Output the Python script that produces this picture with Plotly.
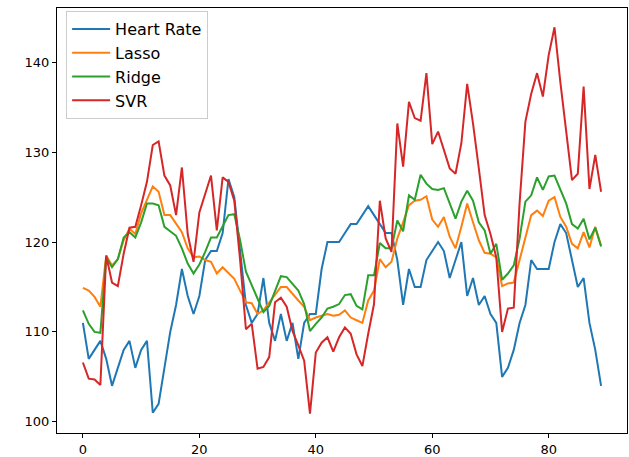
import plotly.graph_objects as go

x_index = list(range(90))

heart_rate = [111, 107, 108, 109, 107, 104, 106, 108, 109, 106,
              108, 109, 101, 102, 106, 110, 113, 117, 114, 112,
              114, 118, 119, 119, 121, 127, 125, 119, 113, 111,
              112, 116, 111, 109, 112, 109, 111, 107, 111, 112,
              112, 117, 120, 120, 120, 121, 122, 122, 123, 124,
              123, 122, 121, 121, 118, 113, 117, 115, 115, 118,
              119, 120, 119, 116, 118, 120, 114, 116, 113, 114,
              112, 111, 105, 106, 108, 111, 113, 118, 117, 117,
              117, 120, 122, 121, 118, 115, 116, 111, 108, 104]

lasso = [114.9, 114.6, 113.9, 112.8, 118.5, 117.4, 118.1, 120.2, 121.5, 120.9,
         123.2, 124.6, 126.2, 125.6, 123.0, 123.0, 122.1, 121.1, 119.3, 118.3,
         118.4, 118.0, 117.8, 116.5, 117.2, 116.5, 115.9, 114.6, 113.3, 113.2,
         112.0, 112.4, 113.3, 114.1, 115.0, 115.0, 114.2, 113.5, 112.8, 111.3,
         111.6, 111.8, 112.0, 111.8, 111.9, 112.4, 111.6, 111.3, 111.0, 113.5,
         114.6, 118.1, 117.2, 117.8, 120.4, 122.2, 124.1, 124.6, 124.7, 125.1,
         122.5, 121.7, 122.8, 120.6, 119.3, 121.7, 124.3, 122.2, 120.2, 118.8,
         118.7, 118.3, 115.1, 115.4, 115.5, 118.0, 120.6, 123.0, 123.5, 122.9,
         124.6, 125.0, 122.8, 121.7, 119.8, 119.3, 121.1, 119.4, 121.7, 119.6]

ridge = [112.4, 110.9, 110.0, 109.9, 118.3, 117.2, 118.1, 120.5, 121.1, 120.5,
         122.2, 124.3, 124.3, 124.1, 121.7, 121.2, 120.7, 119.3, 117.6, 116.5,
         117.5, 118.9, 120.5, 120.5, 121.7, 123.0, 123.1, 120.2, 116.7, 115.2,
         113.7, 112.2, 112.9, 114.6, 116.2, 116.1, 115.4, 114.6, 113.1, 110.1,
         110.9, 111.6, 112.6, 112.8, 113.1, 114.1, 114.2, 112.9, 112.5, 116.3,
         116.3, 119.9, 119.3, 119.3, 122.4, 121.2, 125.2, 124.7, 127.5, 126.5,
         125.9, 125.8, 126.0, 124.3, 122.6, 124.5, 125.7, 124.6, 122.2, 121.3,
         118.7, 119.8, 115.8, 116.5, 117.4, 120.4, 124.5, 125.2, 127.2, 125.8,
         127.3, 127.4, 125.9, 124.3, 122.0, 121.5, 122.6, 120.3, 121.6, 119.5]

svr = [106.6, 104.8, 104.7, 104.1, 118.5, 115.5, 115.1, 118.7, 121.6, 121.7,
       124.1, 126.7, 130.8, 131.2, 127.4, 126.3, 123.0, 128.3, 120.9, 117.8,
       123.3, 125.4, 127.4, 121.3, 127.2, 126.7, 124.6, 118.0, 110.3, 110.9,
       105.9, 106.1, 107.2, 113.3, 113.8, 112.8, 110.1, 108.5, 106.8, 100.9,
       107.7, 108.8, 109.4, 107.8, 109.4, 110.5, 109.8, 107.5, 106.2, 109.8,
       113.1, 124.6, 120.4, 118.9, 133.2, 128.4, 135.6, 133.8, 133.5, 138.8,
       130.9, 132.3, 130.2, 128.2, 127.6, 131.0, 137.6, 133.2, 128.2, 123.0,
       120.9, 118.3, 110.0, 112.6, 112.7, 124.3, 133.4, 136.5, 138.8, 136.2,
       140.8, 143.9, 137.8, 132.1, 126.9, 127.6, 137.3, 125.9, 129.7, 125.6]

series = [("Heart Rate", heart_rate, "#1f77b4"),
          ("Lasso", lasso, "#ff7f0e"),
          ("Ridge", ridge, "#2ca02c"),
          ("SVR", svr, "#d62728")]

fig = go.Figure()
for name, vals, color in series:
    fig.add_trace(go.Scatter(x=x_index, y=vals, mode="lines", name=name,
                             line=dict(color=color, width=2)))

axis_common = dict(showgrid=False, zeroline=False, showline=True, linecolor="black",
                   linewidth=1, mirror=True, ticks="outside", ticklen=4,
                   tickcolor="black", tickwidth=1,
                   tickfont=dict(family="DejaVu Sans", size=13, color="black"))

fig.update_xaxes(range=[-4.45, 93.45], tickvals=[0, 20, 40, 60, 80], **axis_common)
fig.update_yaxes(range=[98.75, 146.05], tickvals=[100, 110, 120, 130, 140], **axis_common)

fig.update_layout(
    width=629, height=457,
    margin=dict(l=57, r=2, t=8, b=24, autoexpand=False),
    plot_bgcolor="white", paper_bgcolor="white",
    showlegend=True,
    legend=dict(x=0.016, y=0.993, xanchor="left", yanchor="top",
                bgcolor="rgba(255,255,255,0.8)", bordercolor="#cccccc", borderwidth=1,
                itemwidth=38,
                font=dict(family="DejaVu Sans", size=16, color="black")),
)

fig.write_html("out.html",
               config={"displayModeBar": False},
               post_script="document.body.style.margin='0';document.body.style.overflow='hidden';")
